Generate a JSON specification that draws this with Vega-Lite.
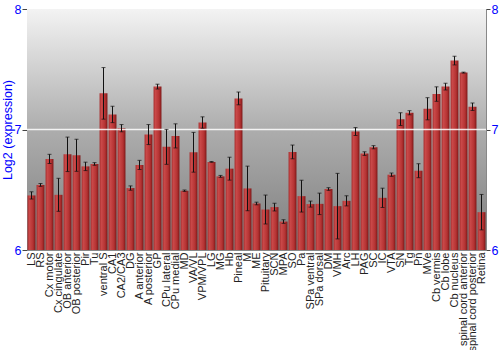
{
  "$schema": "https://vega.github.io/schema/vega-lite/v6.json",
  "width": 459,
  "height": 241,
  "autosize": {"type": "none"},
  "padding": {"left": 27, "top": 9, "right": 14, "bottom": 100},
  "background": "white",
  "config": {
    "view": {"stroke": "#888888", "strokeWidth": 1},
    "font": "Liberation Sans"
  },
  "data": {
    "values": [
      {"region": "LS", "value": 6.453, "err": 0.03},
      {"region": "RS", "value": 6.54, "err": 0.012},
      {"region": "Cx motor", "value": 6.756, "err": 0.038},
      {"region": "Cx cingulate", "value": 6.458, "err": 0.137},
      {"region": "OB anterior", "value": 6.794, "err": 0.143},
      {"region": "OB posterior", "value": 6.786, "err": 0.133},
      {"region": "Pir", "value": 6.694, "err": 0.035},
      {"region": "Tu", "value": 6.714, "err": 0.011},
      {"region": "ventral S", "value": 7.3, "err": 0.214},
      {"region": "CA1", "value": 7.125, "err": 0.068},
      {"region": "CA2/CA3", "value": 7.011, "err": 0.03},
      {"region": "DG", "value": 6.514, "err": 0.018},
      {"region": "A anterior", "value": 6.706, "err": 0.038},
      {"region": "A posterior", "value": 6.958, "err": 0.083},
      {"region": "GP", "value": 7.356, "err": 0.02},
      {"region": "CPu lateral", "value": 6.856, "err": 0.145},
      {"region": "CPu medial", "value": 6.947, "err": 0.1},
      {"region": "MD", "value": 6.492, "err": 0.006},
      {"region": "VA/VL", "value": 6.811, "err": 0.165},
      {"region": "VPM/VPL", "value": 7.058, "err": 0.047},
      {"region": "LG", "value": 6.731, "err": 0.003},
      {"region": "MG", "value": 6.611, "err": 0.008},
      {"region": "Hb", "value": 6.675, "err": 0.095},
      {"region": "Pineal", "value": 7.258, "err": 0.053},
      {"region": "M", "value": 6.511, "err": 0.185},
      {"region": "ME", "value": 6.386, "err": 0.011},
      {"region": "Pituitary", "value": 6.336, "err": 0.12},
      {"region": "SCN", "value": 6.356, "err": 0.032},
      {"region": "MPA", "value": 6.236, "err": 0.015},
      {"region": "SO", "value": 6.814, "err": 0.057},
      {"region": "Pa", "value": 6.447, "err": 0.132},
      {"region": "SPa ventral", "value": 6.381, "err": 0.025},
      {"region": "SPa dorsal", "value": 6.383, "err": 0.089},
      {"region": "DM", "value": 6.506, "err": 0.011},
      {"region": "VMH", "value": 6.364, "err": 0.272},
      {"region": "Arc", "value": 6.408, "err": 0.042},
      {"region": "LH", "value": 6.983, "err": 0.033},
      {"region": "PAG", "value": 6.8, "err": 0.015},
      {"region": "SC", "value": 6.853, "err": 0.013},
      {"region": "IC", "value": 6.433, "err": 0.08},
      {"region": "VTA", "value": 6.625, "err": 0.014},
      {"region": "SN", "value": 7.086, "err": 0.053},
      {"region": "Tg", "value": 7.139, "err": 0.017},
      {"region": "Pn", "value": 6.658, "err": 0.058},
      {"region": "MVe", "value": 7.172, "err": 0.092},
      {"region": "Cb vermis", "value": 7.294, "err": 0.06},
      {"region": "Cb lobe", "value": 7.356, "err": 0.028},
      {"region": "Cb nucleus", "value": 7.572, "err": 0.036},
      {"region": "spinal cord anterior", "value": 7.472, "err": 0.004},
      {"region": "spinal cord posterior", "value": 7.189, "err": 0.031},
      {"region": "Retina", "value": 6.314, "err": 0.147}
    ]
  },
  "layer": [
    {
      "data": {"values": [{"top": 8, "bottom": 6}]},
      "mark": {
        "type": "rect",
        "color": {
          "gradient": "linear", "x1": 0, "y1": 0, "x2": 0, "y2": 1,
          "stops": [
            {"offset": 0, "color": "#f3f3f3"},
            {"offset": 0.5, "color": "#adadad"},
            {"offset": 1, "color": "#7e7e7e"}
          ]
        }
      },
      "encoding": {
        "y": {
          "field": "top", "type": "quantitative", "scale": {"domain": [6, 8], "nice": false},
          "axis": {
            "orient": "left",
            "title": "Log2 (expression)", "titleColor": "#0000ff",
            "titleFontSize": 12.5, "titleFontWeight": "normal", "titleFont": "Liberation Sans",
            "titlePadding": 0,
            "tickCount": 2, "format": "d", "labelColor": "#0000ff", "labelFontSize": 12.5,
            "labelFont": "Liberation Sans", "labelOverlap": false, "labelFlush": false,
            "tickColor": "#444444", "tickSize": 5, "domainColor": "#888888",
            "grid": false, "labelPadding": 1
          }
        },
        "y2": {"field": "bottom"}
      }
    },
    {
      "mark": {
        "type": "bar",
        "color": {
          "gradient": "linear", "x1": 0, "y1": 0, "x2": 1, "y2": 0,
          "stops": [
            {"offset": 0, "color": "#a83030"},
            {"offset": 0.25, "color": "#c94848"},
            {"offset": 0.7, "color": "#b43232"},
            {"offset": 1, "color": "#7c1717"}
          ]
        }
      },
      "encoding": {
        "x": {
          "field": "region", "type": "nominal", "sort": null,
          "scale": {"paddingInner": 0.12, "paddingOuter": 0.06},
          "axis": {
            "title": null, "labelAngle": -90, "labelFontSize": 11,
            "labelColor": "#222222", "ticks": false, "domain": false,
            "labelPadding": 2, "labelFont": "Liberation Sans"
          }
        },
        "y": {
          "field": "value", "type": "quantitative",
          "scale": {"domain": [6, 8], "clamp": true},
          "axis": null
        }
      }
    },
    {
      "data": {"values": [{"v": 7}]},
      "mark": {"type": "rule", "color": "white", "strokeWidth": 1.5, "opacity": 0.85},
      "encoding": {"y": {"field": "v", "type": "quantitative", "axis": null}}
    },
    {
      "mark": {
        "type": "errorbar", "ticks": {"size": 4, "color": "#111111"},
        "rule": {"color": "#111111", "strokeWidth": 1}
      },
      "encoding": {
        "x": {"field": "region", "type": "nominal", "sort": null},
        "y": {"field": "value", "type": "quantitative", "axis": null},
        "yError": {"field": "err"}
      }
    },
    {
      "data": {"values": [{"v": 6}]},
      "mark": {"type": "rule", "opacity": 0},
      "encoding": {
        "y": {
          "field": "v", "type": "quantitative",
          "axis": {
            "orient": "right", "title": null, "tickCount": 2, "format": "d",
            "labelColor": "#0000ff", "labelFontSize": 12.5, "labelFont": "Liberation Sans",
            "labelOverlap": false, "labelFlush": false,
            "tickColor": "#444444", "tickSize": 4, "domainColor": "#888888",
            "grid": false, "labelPadding": 1
          }
        }
      }
    }
  ],
  "resolve": {"axis": {"y": "independent"}, "scale": {"y": "shared"}}
}
